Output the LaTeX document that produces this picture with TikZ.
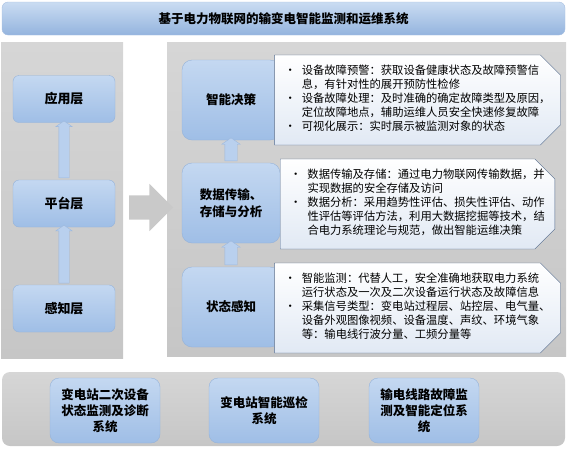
\documentclass[tikz,border=0pt]{standalone}
\usepackage{fontspec}
\setmainfont{Noto Sans CJK SC}
\usetikzlibrary{shapes.arrows,shapes.misc}
\definecolor{TitleTop}{HTML}{CADCF2}
\definecolor{TitleBottom}{HTML}{94B4DE}
\definecolor{TitleLine}{HTML}{A9C1E2}
\definecolor{PanelLight}{HTML}{D6D6D6}
\definecolor{PanelGray}{HTML}{C6C6C6}
\definecolor{BoxTop}{HTML}{C4D8F1}
\definecolor{BoxBottom}{HTML}{9FBEE6}
\definecolor{BoxLine}{HTML}{95B3DA}
\definecolor{NoteLine}{HTML}{4C6487}
\definecolor{NoteTint}{HTML}{E1E9F4}
\definecolor{ArrowBlue}{HTML}{B9D0EE}
\definecolor{ArrowLine}{HTML}{9CB8DE}
\definecolor{ArrowGray}{HTML}{C9C9C9}

\begin{document}
\begin{tikzpicture}[x=1pt, y=-1pt,
  every node/.style={inner sep=0pt, font=\fontsize{11}{14}\selectfont},
  banner/.style={rounded corners=6pt, draw=TitleLine, top color=TitleTop, bottom color=TitleBottom,
    minimum width=563pt, minimum height=33pt, font=\bfseries\fontsize{12.5}{15}\selectfont},
  panel/.style={top color=PanelLight, bottom color=PanelGray},
  layerbox/.style={rounded corners=6pt, draw=BoxLine, top color=BoxTop, bottom color=BoxBottom,
    minimum width=102pt, minimum height=47pt, align=center, font=\bfseries\fontsize{13}{16}\selectfont},
  stagebox/.style={layerbox, rounded corners=10pt, minimum width=98pt, minimum height=80pt,
    font=\bfseries\fontsize{12.5}{17}\selectfont},
  sysbox/.style={layerbox, rounded corners=9pt, minimum width=110pt, minimum height=65pt,
    font=\bfseries\fontsize{12.5}{16}\selectfont},
  notebox/.style={chamfered rectangle, chamfered rectangle corners={north east,south east},
    chamfered rectangle xsep=10pt, chamfered rectangle ysep=10pt, draw=NoteLine,
    top color=white, bottom color=NoteTint, minimum width=271pt, minimum height=78pt,
    font=\fontsize{11.3}{14}\selectfont},
  uparrow/.style={single arrow, rotate=90, draw=ArrowLine, fill=ArrowBlue, inner xsep=0pt,
    inner ysep=5pt, single arrow head extend=3pt, single arrow tip angle=110},
  flowarrow/.style={single arrow, fill=ArrowGray, inner xsep=0pt, inner ysep=12pt,
    single arrow head extend=11.5pt, minimum height=44pt}]
  \useasboundingbox (0,0) rectangle (568,448);

  \node[banner] (title) at (283.5,18.5) {基于电力物联网的输变电智能监测和运维系统};

  \node[panel, minimum width=122pt, minimum height=316pt] (lpanel) at (62,200) {};
  \node[panel, minimum width=399pt, minimum height=314pt] (rpanel) at (366.5,199) {};
  \node[panel, rounded corners=8pt, minimum width=563pt, minimum height=74pt] (bpanel) at (283.5,409) {};

  \node[layerbox] (app) at (64,99) {应用层};
  \node[layerbox] (plat) at (64,203.5) {平台层};
  \node[layerbox] (sense) at (64,308.5) {感知层};
  \path (plat.north) -- (app.south) node[midway, uparrow, minimum height=57pt] (up1) {};
  \path (sense.north) -- (plat.south) node[midway, uparrow, minimum height=58pt] (up2) {};

  \path ([yshift=-8pt]lpanel.east) -- ([yshift=-8pt]rpanel.west) node[midway, flowarrow] (flow) {};

  \node[stagebox] (decide) at (231,100) {智能决策};
  \node[stagebox] (store) at (231,203) {数据传输、\\存储与分析};
  \node[stagebox] (state) at (231,307) {状态感知};
  \path (store.north) -- (decide.south) node[midway, uparrow, inner ysep=6pt, minimum height=23pt] (up3) {};
  \path (state.north) -- (store.south) node[midway, uparrow, inner ysep=6pt, minimum height=24pt] (up4) {};

  \node[notebox] (note1) at (417.5,100) {\begin{tabular}{@{}l@{\hspace{6pt}}l@{}}
    \textbullet & 设备故障预警：获取设备健康状态及故障预警信\\
    & 息，有针对性的展开预防性检修\\
    \textbullet & 设备故障处理：及时准确的确定故障类型及原因，\\
    & 定位故障地点，辅助运维人员安全快速修复故障\\
    \textbullet & 可视化展示：实时展示被监测对象的状态
  \end{tabular}};
  \node[notebox] (note2) at (417.5,204) {\begin{tabular}{@{}l@{\hspace{6pt}}l@{}}
    \textbullet & 数据传输及存储：通过电力物联网传输数据，并\\
    & 实现数据的安全存储及访问\\
    \textbullet & 数据分析：采用趋势性评估、损失性评估、动作\\
    & 性评估等评估方法，利用大数据挖掘等技术，结\\
    & 合电力系统理论与规范，做出智能运维决策
  \end{tabular}};
  \node[notebox, minimum height=80pt] (note3) at (417.5,308) {\begin{tabular}{@{}l@{\hspace{6pt}}l@{}}
    \textbullet & 智能监测：代替人工，安全准确地获取电力系统\\
    & 运行状态及一次及二次设备运行状态及故障信息\\
    \textbullet & 采集信号类型：变电站过程层、站控层、电气量、\\
    & 设备外观图像视频、设备温度、声纹、环境气象\\
    & 等：输电线行波分量、工频分量等
  \end{tabular}};

  \node[sysbox] (sys1) at (105,410.5) {变电站二次设备\\状态监测及诊断\\系统};
  \node[sysbox] (sys2) at (264,410.5) {变电站智能巡检\\系统};
  \node[sysbox] (sys3) at (424,410.5) {输电线路故障监\\测及智能定位系\\统};
\end{tikzpicture}
\end{document}
